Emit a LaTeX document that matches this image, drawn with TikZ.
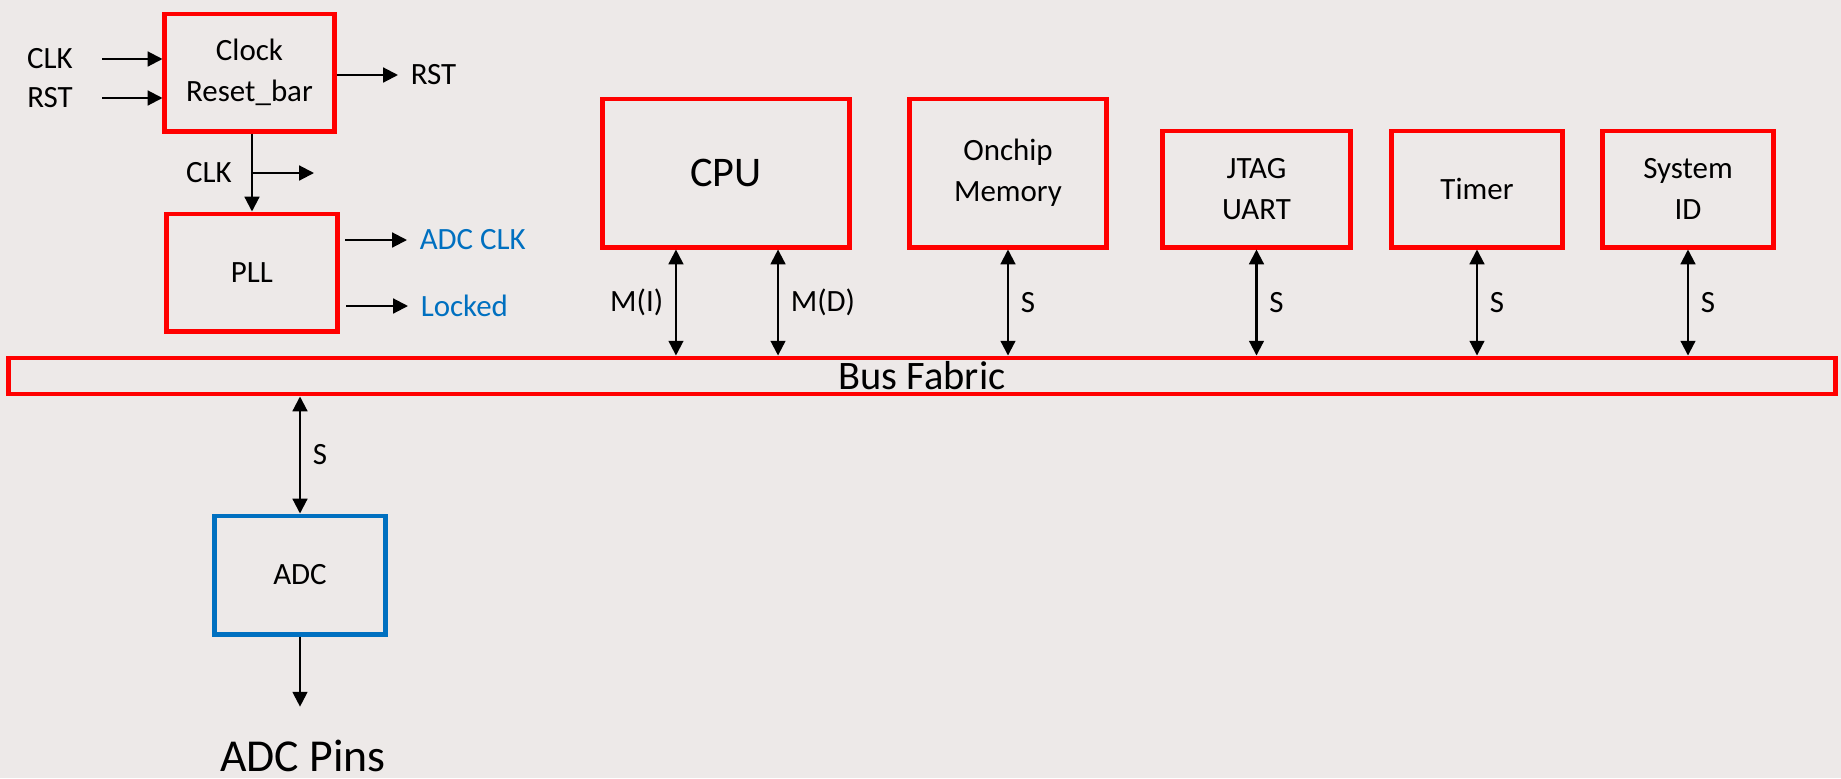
\documentclass[tikz,border=0pt]{standalone}
\usepackage{fontspec}
\setmainfont{Carlito}
\usetikzlibrary{arrows.meta}
\definecolor{boxred}{RGB}{255,0,0}
\definecolor{adcblue}{RGB}{0,112,192}
\definecolor{backdrop}{RGB}{237,233,232}
\tikzset{>={Triangle[length=4.2pt,width=4.2pt]}}

\begin{document}
\begin{tikzpicture}[x=0.01cm,y=-0.01cm,
  lbl/.style={font=\fontsize{8.8}{11.6}\selectfont},
  blk/.style={lbl,draw=boxred,line width=1.4pt,align=center},
  wire/.style={line width=0.6pt}]
  \fill[backdrop] (0,0) rectangle (1841,778);
  \useasboundingbox (0,0) rectangle (1841,778);
  % clock and pll
  \node[blk,minimum width=1.69cm,minimum height=1.17cm] (clk) at (249.5,72.5) {Clock\\Reset\_bar};
  \node[blk,minimum width=1.70cm,minimum height=1.17cm] (pll) at (252,272.5) {PLL};
  \node[lbl] (clkin) at (50,59) {CLK};
  \node[lbl] (rstin) at (50,98) {RST};
  \coordinate (clkinend) at (102,59);
  \coordinate (rstinend) at (102,98);
  \draw[wire,->] (clkinend) -- (clk.west |- clkinend);
  \draw[wire,->] (rstinend) -- (clk.west |- rstinend);
  \coordinate (rstout) at (398,75);
  \draw[wire,->] (clk.east |- rstout) -- (rstout) node[lbl,right] (rstlbl) {RST};
  \draw[wire,->] (clk.south -| 252,0) -- (pll.north -| 252,0);
  \coordinate (branch) at (252,173);
  \coordinate (branchend) at (314,173);
  \draw[wire,->] (branch) -- (branchend);
  \node[lbl] (clkbr) at (209,173) {CLK};
  \coordinate (adcclkst) at (345,240);
  \coordinate (lockedst) at (346,306);
  \draw[wire,->] (adcclkst) -- ++(62,0) node[lbl,right,text=adcblue] (adcclk) {ADC CLK};
  \draw[wire,->] (lockedst) -- ++(62,0) node[lbl,right,text=adcblue] (locked) {Locked};
  % system blocks
  \node[blk,minimum width=2.46cm,minimum height=1.48cm,font=\fontsize{12}{14}\selectfont] (cpu) at (726,173) {CPU};
  \node[blk,minimum width=1.96cm,minimum height=1.48cm] (mem) at (1008,173) {Onchip\\Memory};
  \node[blk,minimum width=1.87cm,minimum height=1.16cm] (jtag) at (1256.5,189) {JTAG\\UART};
  \node[blk,minimum width=1.70cm,minimum height=1.16cm] (timer) at (1477,189) {Timer};
  \node[blk,minimum width=1.70cm,minimum height=1.16cm] (sysid) at (1688,189) {System\\ID};
  \node[blk,minimum width=18.26cm,minimum height=0.36cm,inner sep=0pt,font=\fontsize{11.5}{13}\selectfont] (bus) at (922,376) {Bus Fabric};
  \draw[wire,<->] ([xshift=-0.5cm]cpu.south) -- ([xshift=-0.5cm]cpu.south |- bus.north) node[lbl,midway,left] {M(I)};
  \draw[wire,<->] ([xshift=0.52cm]cpu.south) -- ([xshift=0.52cm]cpu.south |- bus.north) node[lbl,midway,right] {M(D)};
  \draw[wire,<->] (mem.south) -- (mem.south |- bus.north) node[lbl,midway,right] {S};
  \draw[wire,<->] (jtag.south) -- (jtag.south |- bus.north) node[lbl,midway,right] {S};
  \draw[wire,<->] (timer.south) -- (timer.south |- bus.north) node[lbl,midway,right] {S};
  \draw[wire,<->] (sysid.south) -- (sysid.south |- bus.north) node[lbl,midway,right] {S};
  % adc
  \node[blk,draw=adcblue,minimum width=1.70cm,minimum height=1.18cm] (adc) at (300,575) {ADC};
  \node[font=\fontsize{13}{15}\selectfont] (pins) at (303,756) {ADC Pins};
  \draw[wire,<->] (bus.south -| adc.north) -- (adc.north) node[lbl,midway,right] {S};
  \draw[wire,->,shorten >=0.21cm] (adc.south) -- (adc.south |- pins.north);
\end{tikzpicture}
\end{document}
